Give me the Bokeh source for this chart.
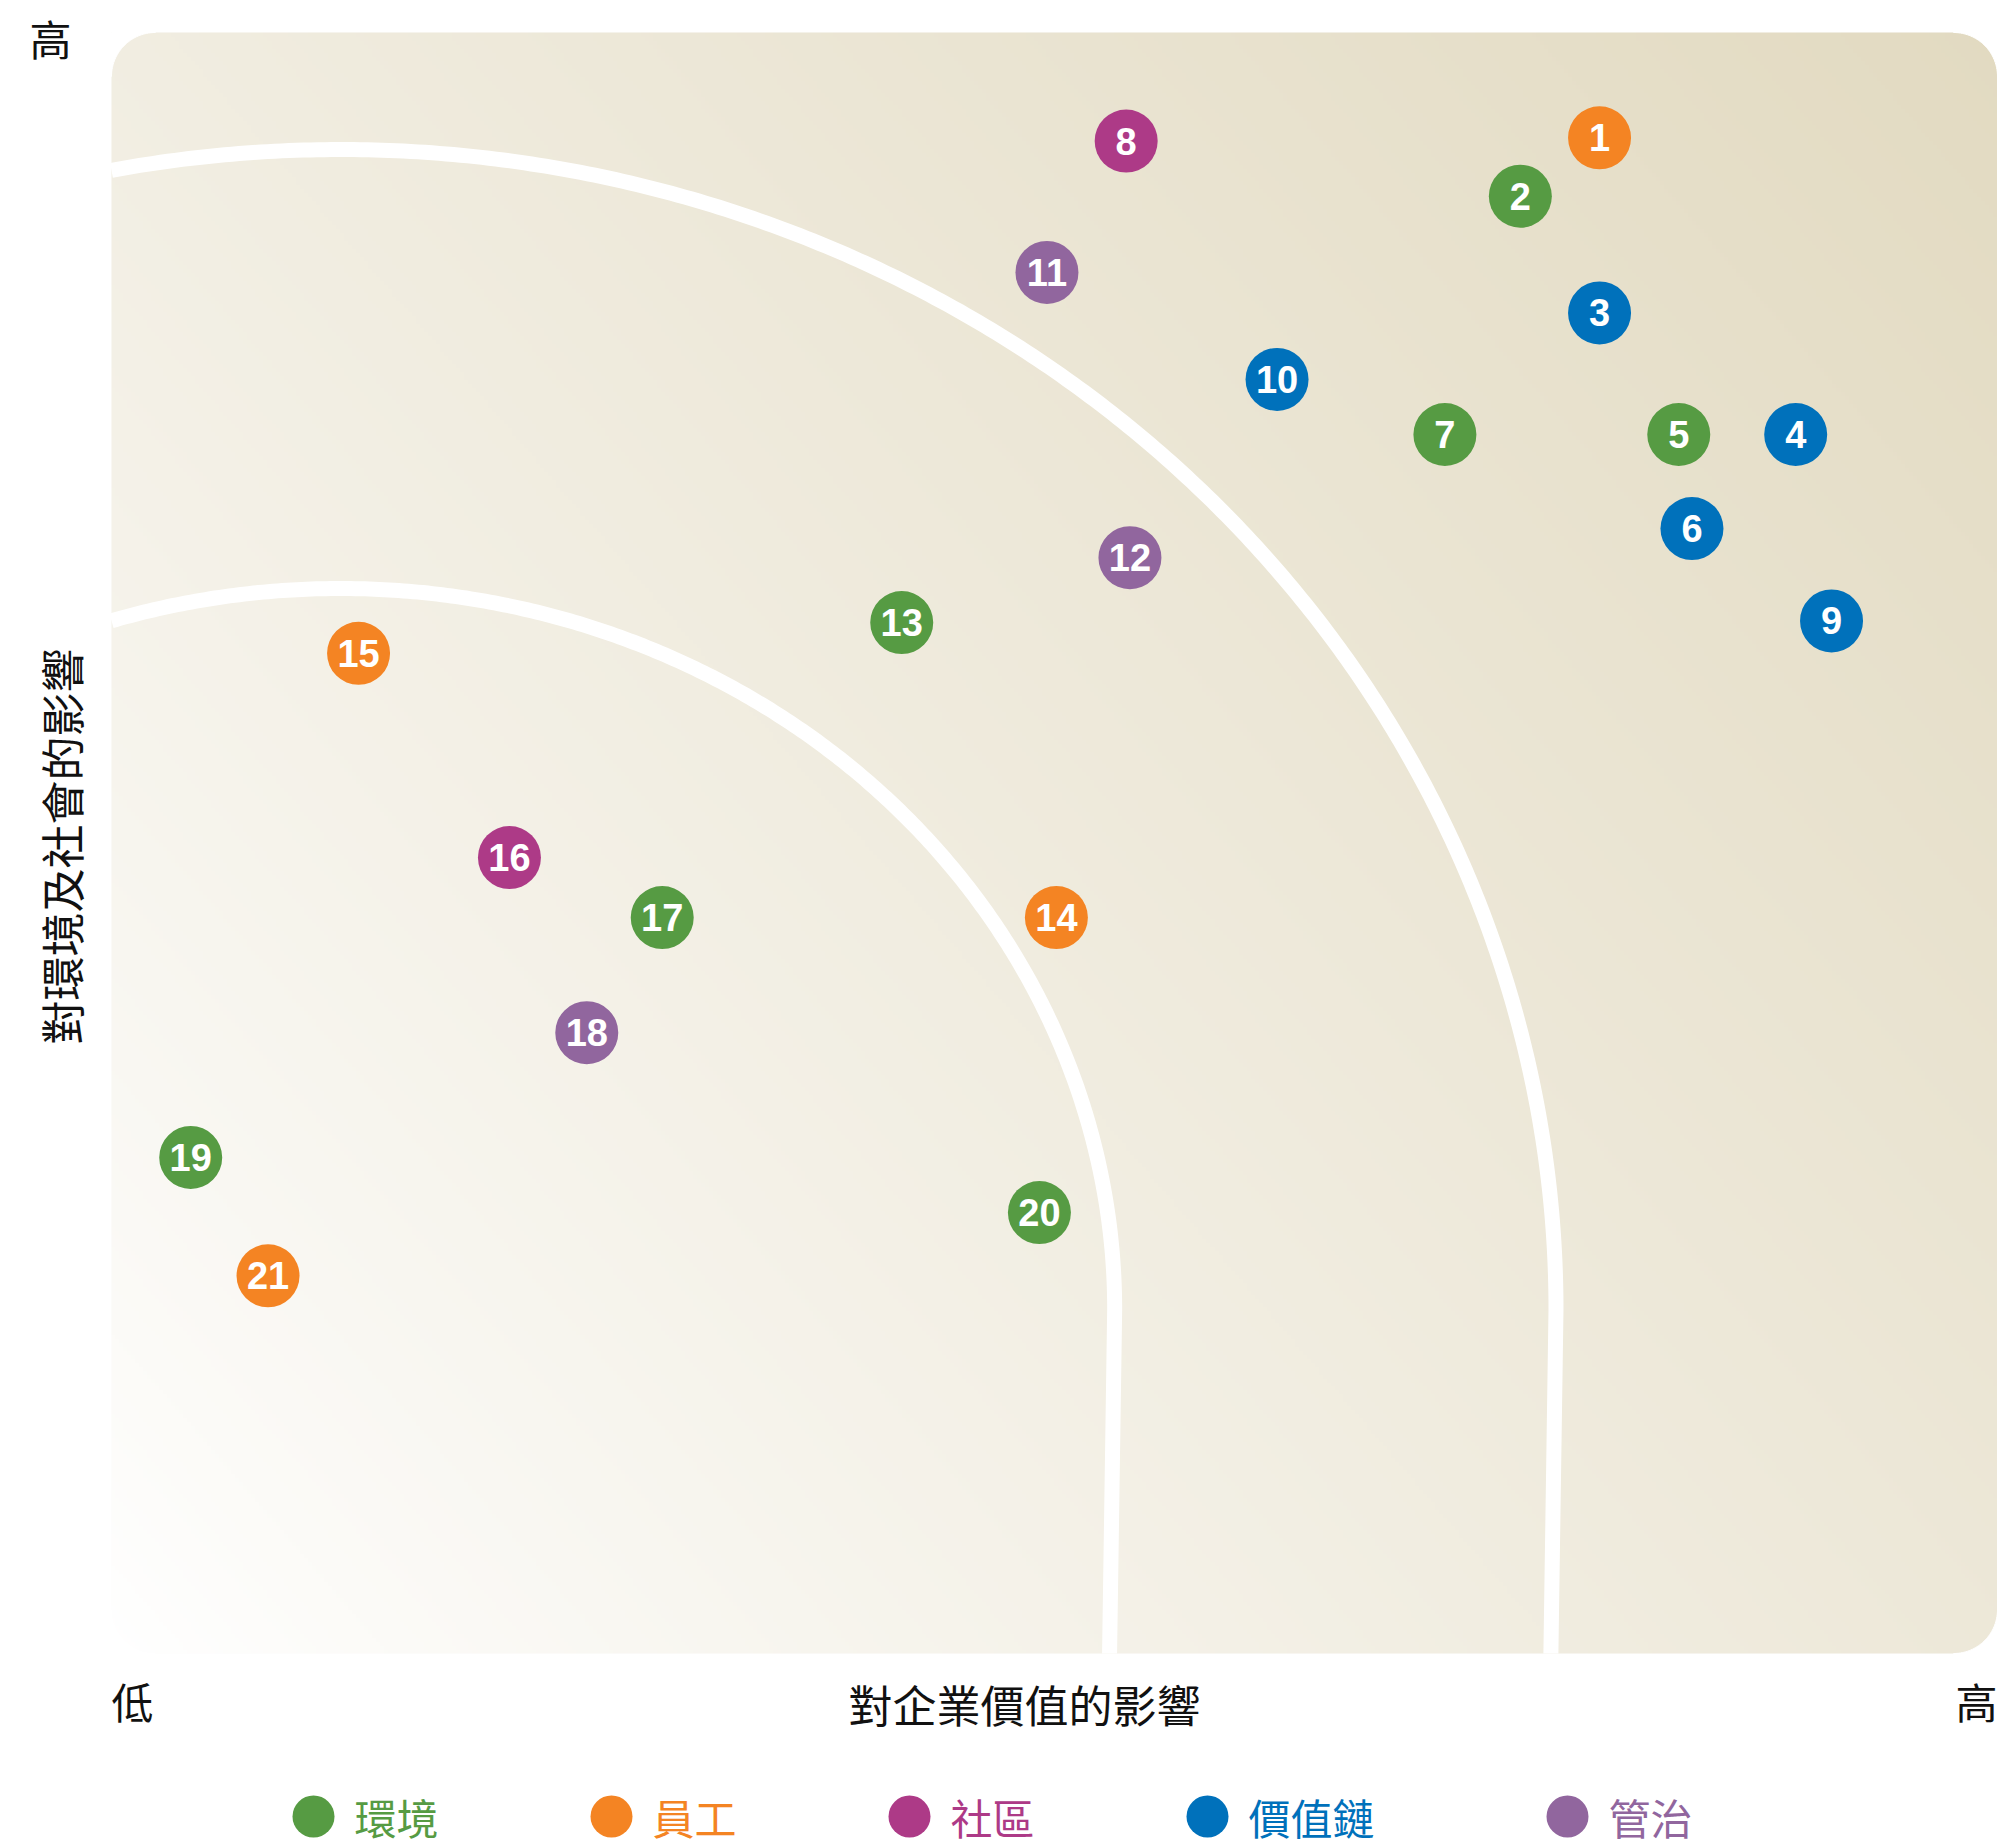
import numpy as np
from bokeh.plotting import figure
from bokeh.models import ColumnDataSource, Label, Range1d
from bokeh.embed import file_html
from bokeh.resources import INLINE
from bokeh.core.properties import value

# ---------------- data ----------------
ids = [str(i) for i in range(1, 22)]
biz_impact = [78.9, 74.7, 78.9, 89.3, 83.1, 83.8, 70.7, 53.8, 91.2, 61.8, 49.6,
              54.0, 41.9, 50.1, 13.1, 21.1, 29.2, 25.2, 4.2, 49.2, 8.3]
esg_impact = [93.5, 89.9, 82.7, 75.2, 75.2, 69.4, 75.2, 93.3, 63.7, 78.6, 85.2,
              67.6, 63.6, 45.4, 61.7, 49.1, 45.4, 38.3, 30.6, 27.2, 23.3]
category = ["員工", "環境", "價值鏈", "價值鏈", "環境", "價值鏈", "環境", "社區", "價值鏈", "價值鏈", "管治",
            "管治", "環境", "員工", "員工", "社區", "環境", "管治", "環境", "環境", "員工"]
categories = ["環境", "員工", "社區", "價值鏈", "管治"]
cat_colors = ["#569B43", "#F48423", "#AD3A87", "#0071BB", "#91669E"]

x_title = "對企業價值的影響"
y_title = "對環境及社會的影響"
low_label = "低"
high_label = "高"

# threshold curves (ellipse centre and radii, in score units)
curve_center = (12.14, 21.22)
curve_radii = [(64.45, 71.56), (41.05, 44.48)]

# ---------------- layout ----------------
W, H = 1997, 1847
PX_X, PX_Y = 18.86, 16.21           # pixels per score unit
x0 = -111 / PX_X
y1 = 100 + 32 / PX_Y
y0 = y1 - H / PX_Y

p = figure(width=W, height=H, x_range=Range1d(x0, x0 + W / PX_X), y_range=Range1d(y0, y1),
           output_backend="svg", toolbar_location=None, x_axis_type=None, y_axis_type=None,
           min_border=0, min_border_left=0, min_border_right=0, min_border_top=0, min_border_bottom=0)
p.outline_line_color = None
p.background_fill_color = "white"
p.border_fill_color = "white"

# gradient background panel
nx, ny = 470, 406
u = np.linspace(0, 1, nx)[None, :]
v = np.linspace(0, 1, ny)[:, None]
PW, PH = 1886.0, 1621.0
t = (u * PW ** 2 + v * PH ** 2) / (PW ** 2 + PH ** 2)
f = t ** 0.85
end = np.array([226, 218, 193], dtype=float)
rgb = 255 - f[..., None] * (255 - end)
img = np.empty((ny, nx), dtype=np.uint32)
view = img.view(dtype=np.uint8).reshape((ny, nx, 4))
view[..., 0:3] = np.round(rgb).astype(np.uint8)
view[..., 3] = 255
p.image_rgba(image=[img], x=0, y=0, dw=100, dh=100)

# rounded corners (white masks)
rx_c, ry_c = 44 / PX_X, 44 / PX_Y
corners = [((0, 100), (rx_c, 100 - ry_c), 90, 180),
           ((100, 100), (100 - rx_c, 100 - ry_c), 0, 90),
           ((100, 0), (100 - rx_c, ry_c), 270, 360),
           ((0, 0), (rx_c, ry_c), 180, 270)]
cxs, cys = [], []
for (px, py), (ccx_, ccy_), a0, a1 in corners:
    a = np.radians(np.linspace(a0, a1, 40))
    cxs.append([px] + list(ccx_ + rx_c * np.cos(a)))
    cys.append([py] + list(ccy_ + ry_c * np.sin(a)))
p.patches(cxs, cys, fill_color="white", line_color="white", line_width=1)

# white threshold curves
ccx, ccy = curve_center
for rx, ry in curve_radii:
    th0 = np.arccos(-ccx / rx)
    th = np.linspace(th0, 0, 300)
    xs = list(ccx + rx * np.cos(th)) + [ccx + rx - 0.27]
    ys = list(ccy + ry * np.sin(th)) + [0]
    p.line(xs, ys, line_color="white", line_width=15, line_join="round")

# markers
src = ColumnDataSource(dict(x=biz_impact, y=esg_impact, label=ids,
                            color=[cat_colors[categories.index(c)] for c in category]))
p.scatter("x", "y", source=src, size=63, fill_color="color", line_color=None)
p.text("x", "y", text="label", source=src, text_color="white",
       text_font=value("Liberation Sans"), text_font_style="bold", text_font_size="38px",
       text_align="center", text_baseline="middle")

# axis texts
CJK = "Noto Sans CJK TC"
def lab(x, y, text, size, **kw):
    p.add_layout(Label(x=x, y=y, text=text, text_font=CJK, text_font_size=size,
                       text_color="#111111", **kw))

lab((50 - 111) / PX_X, (1653 - 37) / PX_Y, high_label, "42px", text_align="center", text_baseline="middle")
lab((60 - 111) / PX_X, (1653 - 846) / PX_Y, y_title, "44px", text_align="center", text_baseline="middle",
    angle=np.pi / 2)
lab(0, (1653 - 1700) / PX_Y, low_label, "42px", text_align="left", text_baseline="middle")
lab(100, (1653 - 1700) / PX_Y, high_label, "42px", text_align="right", text_baseline="middle")
lab((1024 - 111) / PX_X, (1653 - 1703) / PX_Y, x_title, "44px", text_align="center", text_baseline="middle")

# legend
leg_x = []
cur = (313 - 111) / PX_X
for c in categories:
    leg_x.append(cur)
    cur += (174 + 62 * len(c)) / PX_X
leg_y = (1653 - 1816) / PX_Y
leg = ColumnDataSource(dict(x=leg_x, tx=[xx + 41 / PX_X for xx in leg_x], y=[leg_y] * len(categories),
                            name=categories, color=cat_colors))
p.scatter("x", "y", source=leg, size=42, fill_color="color", line_color=None)
p.text("tx", "y", text="name", source=leg, text_color="color", text_font=value(CJK),
       text_font_size="42px", text_align="left", text_baseline="middle")

open("out.html", "w").write(file_html(p, INLINE))
